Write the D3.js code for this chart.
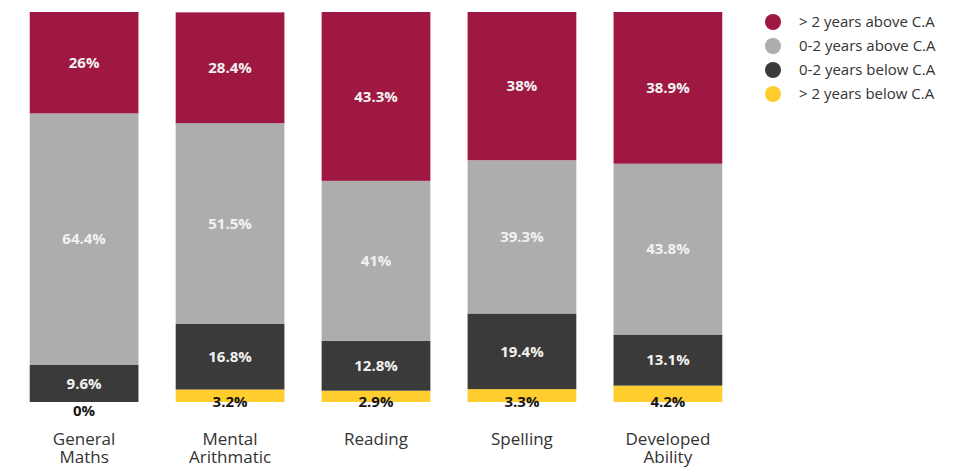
<!DOCTYPE html>
<html>
<head>
<meta charset="utf-8">
<script src="https://cdn.jsdelivr.net/npm/d3@7"></script>
<style>
  html, body { margin: 0; padding: 0; background: #fff; }
  svg { display: block; font-family: "Open Sans", "Noto Sans", sans-serif; }
</style>
</head>
<body>
<svg id="chart" width="973" height="467"></svg>
<script>
// Subjects along the x axis (two-line labels split on "\n")
const categories = ["General\nMaths", "Mental\nArithmatic", "Reading", "Spelling", "Developed\nAbility"];

// Percentage of pupils in each band, one array per band
const above2 = [26, 28.4, 43.3, 38, 38.9];
const above02 = [64.4, 51.5, 41, 39.3, 43.8];
const below02 = [9.6, 16.8, 12.8, 19.4, 13.1];
const below2 = [0, 3.2, 2.9, 3.3, 4.2];

// Legend names
const seriesNames = ["> 2 years above C.A", "0-2 years above C.A", "0-2 years below C.A", "> 2 years below C.A"];
const seriesColors = ["#9e1842", "#adadad", "#3a3a3a", "#ffcd2e"];

const svg = d3.select("#chart");

const x = d3.scaleBand()
  .domain(categories)
  .range([2, 750])
  .paddingInner(0.255)
  .paddingOuter(0.19);

const y = d3.scaleLinear().domain([0, 100]).range([402, 12]);

// Stack from the bottom: below 2 yrs, below 0-2, above 0-2, above 2
const keys = ["below2", "below02", "above02", "above2"];
const table = categories.map((c, i) => ({
  cat: c, above2: above2[i], above02: above02[i], below02: below02[i], below2: below2[i]
}));
const stacked = d3.stack().keys(keys)(table);
const colorOf = { above2: seriesColors[0], above02: seriesColors[1], below02: seriesColors[2], below2: seriesColors[3] };

const layers = svg.append("g").selectAll("g")
  .data(stacked)
  .join("g")
  .attr("fill", d => colorOf[d.key]);

layers.selectAll("rect")
  .data(d => d)
  .join("rect")
  .attr("x", d => x(d.data.cat))
  .attr("width", x.bandwidth())
  .attr("y", d => y(d[1]))
  .attr("height", d => y(d[0]) - y(d[1]));

// Value labels
const labels = svg.append("g")
  .attr("font-size", 15)
  .attr("font-weight", 700)
  .attr("text-anchor", "middle");

stacked.forEach(layer => {
  layer.forEach(d => {
    const v = d.data[layer.key];
    let cy, fill;
    if (layer.key === "below2") {
      // thin segment: label sits on the bar base, dark text
      cy = y(0) + (v === 0 ? 9 : 0);
      fill = "#161616";
    } else {
      cy = (y(d[0]) + y(d[1])) / 2;
      fill = "#f2f2f2";
    }
    labels.append("text")
      .attr("x", x(d.data.cat) + x.bandwidth() / 2)
      .attr("y", cy)
      .attr("dy", "0.35em")
      .attr("fill", fill)
      .text(v + "%");
  });
});

// Category axis labels
const xAxis = svg.append("g")
  .attr("font-size", 17)
  .attr("fill", "#333")
  .attr("text-anchor", "middle");

categories.forEach(c => {
  c.split("\n").forEach((line, i) => {
    xAxis.append("text")
      .attr("x", x(c) + x.bandwidth() / 2)
      .attr("y", 445 + i * 17.5)
      .text(line);
  });
});

// Legend
const legend = svg.append("g").attr("transform", "translate(773,22)");
seriesNames.forEach((name, i) => {
  const g = legend.append("g").attr("transform", `translate(0,${i * 24})`);
  g.append("circle").attr("r", 8).attr("fill", seriesColors[i]);
  g.append("text")
    .attr("x", 26)
    .attr("dy", "0.35em")
    .attr("font-size", 15)
    .attr("fill", "#333")
    .text(name);
});
</script>
</body>
</html>
